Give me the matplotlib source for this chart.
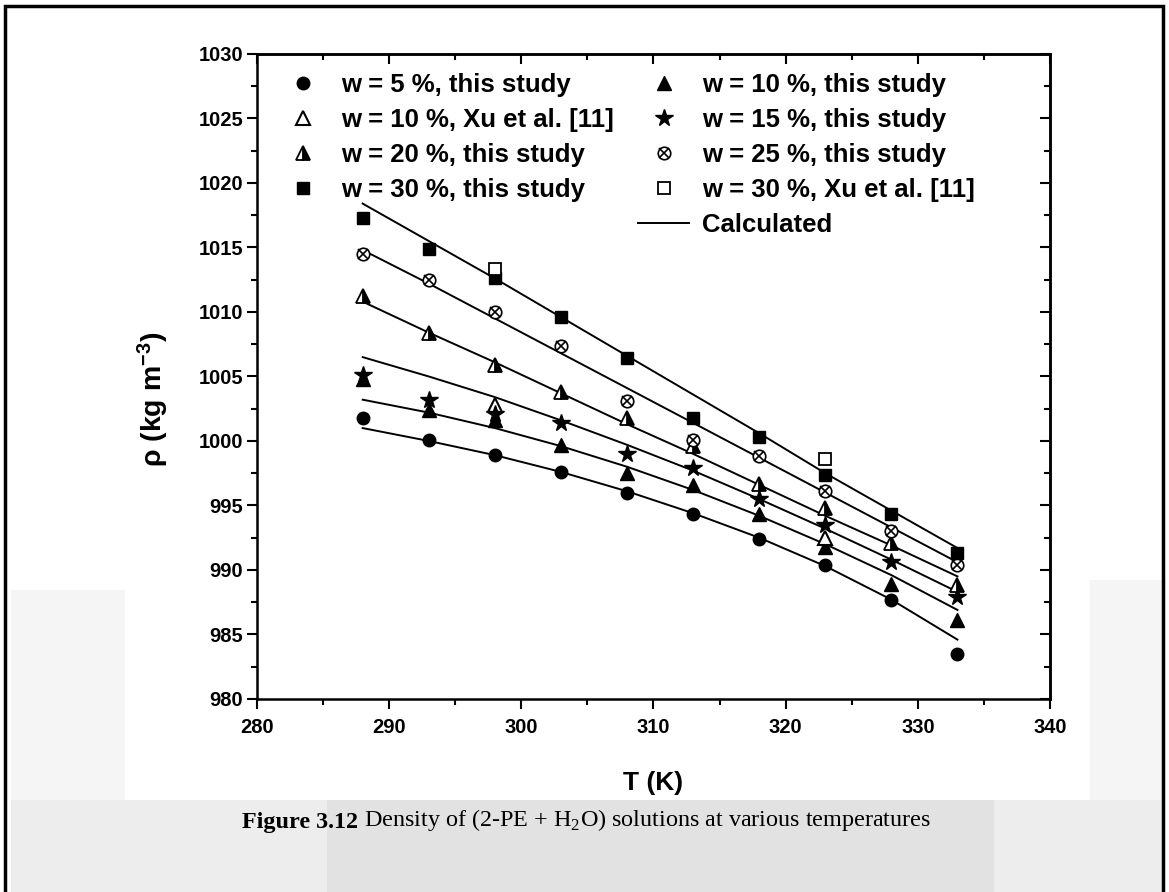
import matplotlib
matplotlib.use("Agg")
import matplotlib.pyplot as plt
from matplotlib.patches import Rectangle
from matplotlib.ticker import MultipleLocator
from matplotlib.legend_handler import HandlerTuple
from matplotlib.lines import Line2D

plt.rcParams['font.family'] = ['Liberation Sans', 'DejaVu Sans']
plt.rcParams['mathtext.fontset'] = 'custom'
plt.rcParams['mathtext.rm'] = 'Liberation Serif'
plt.rcParams['mathtext.bf'] = 'Liberation Sans:bold'

# temperatures (K)
T = [288, 293, 298, 303, 308, 313, 318, 323, 328, 333]
T_xu = [298, 323]

# measured densities (kg m-3)
rho_w5 = [1001.8, 1000.1, 998.9, 997.6, 996.0, 994.3, 992.4, 990.4, 987.7, 983.5]
rho_w10 = [1004.8, 1002.4, 1001.6, 999.7, 997.5, 996.6, 994.3, 991.8, 988.9, 986.1]
rho_w15 = [1005.1, 1003.2, 1002.1, 1001.4, 999.0, 997.9, 995.5, 993.5, 990.6, 987.9]
rho_w20 = [1011.2, 1008.4, 1005.9, 1003.8, 1001.8, 999.6, 996.7, 994.8, 992.1, 988.8]
rho_w25 = [1014.5, 1012.5, 1010.0, 1007.4, 1003.1, 1000.1, 998.8, 996.1, 993.0, 990.4]
rho_w30 = [1017.3, 1014.9, 1012.6, 1009.6, 1006.4, 1001.8, 1000.3, 997.4, 994.3, 991.3]
rho_xu10 = [1002.8, 992.5]
rho_xu30 = [1013.3, 998.6]

# calculated curves
calc_w5 = [1001.0, 1000.0, 998.9, 997.6, 996.1, 994.4, 992.5, 990.3, 987.7, 984.6]
calc_w10 = [1003.2, 1002.2, 1001.0, 999.6, 998.0, 996.2, 994.2, 992.0, 989.6, 986.9]
calc_w15 = [1006.5, 1005.0, 1003.4, 1001.6, 999.7, 997.7, 995.5, 993.2, 990.8, 988.3]
calc_w20 = [1010.8, 1008.4, 1006.1, 1003.7, 1001.3, 999.0, 996.6, 994.2, 991.9, 989.5]
calc_w25 = [1014.8, 1012.2, 1009.5, 1006.8, 1004.1, 1001.4, 998.7, 996.0, 993.3, 990.6]
calc_w30 = [1018.4, 1015.5, 1012.6, 1009.6, 1006.6, 1003.6, 1000.6, 997.5, 994.6, 991.7]

fig = plt.figure(figsize=(11.69, 8.92), dpi=100)

# light grey watermark areas and page border
fig.patches.append(Rectangle((0.009, 0.0), 0.098, 0.339, transform=fig.transFigure,
                             facecolor='#f5f5f5', edgecolor='none', zorder=-6))
fig.patches.append(Rectangle((0.932, 0.0), 0.062, 0.35, transform=fig.transFigure,
                             facecolor='#f5f5f5', edgecolor='none', zorder=-6))
fig.patches.append(Rectangle((0.009, 0.0), 0.985, 0.103, transform=fig.transFigure,
                             facecolor='#ededed', edgecolor='none', zorder=-5))
fig.patches.append(Rectangle((0.28, 0.0), 0.57, 0.103, transform=fig.transFigure,
                             facecolor='#e2e2e2', edgecolor='none', zorder=-4))
fig.patches.append(Rectangle((0.0045, -0.05), 0.9905, 1.043, transform=fig.transFigure,
                             facecolor='none', edgecolor='black', lw=2.5, zorder=10))

ax = fig.add_axes([0.2198, 0.2164, 0.6784, 0.7231])
ax.set_facecolor('white')

for c in [calc_w5, calc_w10, calc_w15, calc_w20, calc_w25, calc_w30]:
    ax.plot(T, c, color='black', lw=1.4, zorder=2)

k = dict(linestyle='none', color='black', zorder=3)
h5, = ax.plot(T, rho_w5, marker='o', ms=9, **k)
h10, = ax.plot(T, rho_w10, marker='^', ms=10, **k)
hxu10, = ax.plot(T_xu, rho_xu10, marker='^', ms=10, mfc='white', mec='black', mew=1.5, **k)
h15, = ax.plot(T, rho_w15, marker='*', ms=13, **k)
h20, = ax.plot(T, rho_w20, marker='^', ms=10, fillstyle='right', mfc='black',
               markerfacecoloralt='white', mec='black', mew=1.3, **k)
h25a, = ax.plot(T, rho_w25, marker='o', ms=9, mfc='white', mec='black', mew=1.2, **k)
h25b, = ax.plot(T, rho_w25, marker='x', ms=7, mew=1.2, **k)
h30, = ax.plot(T, rho_w30, marker='s', ms=8, **k)
hxu30, = ax.plot(T_xu, rho_xu30, marker='s', ms=8, mfc='white', mec='black', mew=1.3, **k)
hcalc = Line2D([], [], color='black', lw=1.4)

ax.set_xlim(280, 340)
ax.set_ylim(980, 1030)
ax.xaxis.set_major_locator(MultipleLocator(10))
ax.xaxis.set_minor_locator(MultipleLocator(5))
ax.yaxis.set_major_locator(MultipleLocator(5))
ax.yaxis.set_minor_locator(MultipleLocator(2.5))
for s in ax.spines.values():
    s.set_linewidth(1.8)
ax.tick_params(which='both', direction='out', width=1.5, top=False, right=False)
ax.tick_params(which='major', length=7)
ax.tick_params(which='minor', length=4)
ax.tick_params(axis='both', labelsize=14.5)
ax.tick_params(axis='y', pad=3)
ax.tick_params(axis='x', pad=7)
for lab in ax.get_xticklabels() + ax.get_yticklabels():
    lab.set_fontweight('bold')

# inward ticks on top and right
sec_x = ax.secondary_xaxis('top')
sec_x.xaxis.set_major_locator(MultipleLocator(10))
sec_x.xaxis.set_minor_locator(MultipleLocator(5))
sec_x.tick_params(which='both', direction='in', width=1.5, labeltop=False)
sec_x.tick_params(which='major', length=7)
sec_x.tick_params(which='minor', length=4)
sec_x.spines['top'].set_linewidth(1.8)
sec_y = ax.secondary_yaxis('right')
sec_y.yaxis.set_major_locator(MultipleLocator(5))
sec_y.yaxis.set_minor_locator(MultipleLocator(2.5))
sec_y.tick_params(which='both', direction='in', width=1.5, labelright=False)
sec_y.tick_params(which='major', length=7)
sec_y.tick_params(which='minor', length=4)
sec_y.spines['right'].set_linewidth(1.8)

ax.set_xlabel('T (K)', fontsize=19, fontweight='bold')
ax.xaxis.set_label_coords(0.5, -0.112)
ax.set_ylabel(r'ρ (kg m$\mathbf{^{-3}}$)', fontsize=20.5, fontweight='bold')
ax.yaxis.set_label_coords(-0.109, 0.465)

leg_kw = dict(frameon=False, prop={'weight': 'bold', 'size': 18.5},
              handlelength=2.0, handletextpad=0.5, labelspacing=0.43,
              borderpad=0, borderaxespad=0, loc='upper left',
              handler_map={tuple: HandlerTuple(ndivide=1)})
leg1 = fig.legend([h5, hxu10, h20, h30],
                  ['w = 5 %, this study', 'w = 10 %, Xu et al. [11]',
                   'w = 20 %, this study', 'w = 30 %, this study'],
                  bbox_to_anchor=(277 / 1169, 1 - 73 / 892), **leg_kw)
leg2 = fig.legend([h10, h15, (h25a, h25b), hxu30, hcalc],
                  ['w = 10 %, this study', 'w = 15 %, this study',
                   'w = 25 %, this study', 'w = 30 %, Xu et al. [11]', 'Calculated'],
                  bbox_to_anchor=(638 / 1169, 1 - 73 / 892), **leg_kw)

# caption: bold label followed by regular text
t1 = fig.text(242 / 1169, 1 - 828 / 892, 'Figure 3.12', fontsize=17.4, fontweight='bold',
              family='Liberation Serif', va='baseline')
ax.annotate(r' Density of (2-PE + H$_{\mathrm{2}}$O) solutions at various temperatures',
            xy=(1, 0), xycoords=t1, fontsize=17.4, family='Liberation Serif',
            va='bottom', ha='left', annotation_clip=False)

fig.savefig('out.png', dpi=100, facecolor='white')
